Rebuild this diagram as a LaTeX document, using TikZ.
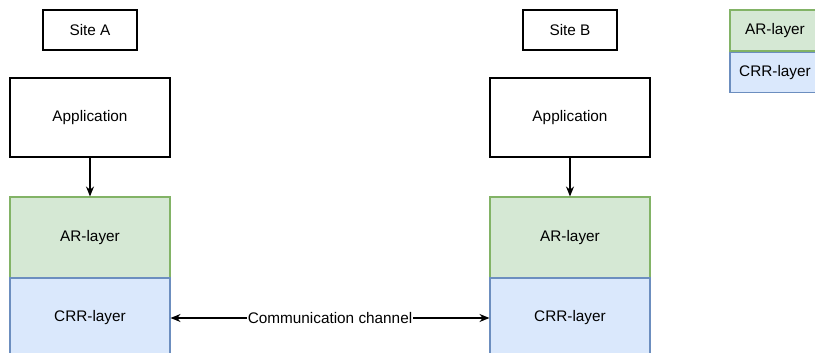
\documentclass[tikz,border=0pt]{standalone}
\usepackage{fontspec}
\setmainfont{Liberation Sans}
\usepackage{xcolor}
\usepackage{tikz}
\usetikzlibrary{arrows,arrows.meta,shapes,positioning}

\definecolor{argreen}{HTML}{D5E8D4}
\definecolor{argreenline}{HTML}{82B366}
\definecolor{crrblue}{HTML}{DAE8FC}
\definecolor{crrblueline}{HTML}{6C8EBF}

\tikzset{
	plainbox/.style={draw=black, fill=white, inner sep=0pt},
	arbox/.style={draw=argreenline, fill=argreen, inner sep=0pt},
	crrbox/.style={draw=crrblueline, fill=crrblue, inner sep=0pt},
	tip/.style={-{Stealth[length=7.5pt, width=6pt]}},
}

\begin{document}
\begin{tikzpicture}[x=0.75pt, y=-0.75pt, font=\fontsize{11.5}{13}\selectfont, line width=0.8pt]
				\useasboundingbox (0,0) rectangle (815,353);
				\clip (0,0) rectangle (815,353);
				
				% site A
				\node [plainbox, minimum width=70.5pt, minimum height=30pt] (siteA) at (90,30) {Site A};
				\node [plainbox, minimum width=120pt, minimum height=59.25pt] (appA) at (90,117.5) {Application};
				\node [arbox, minimum width=120pt, minimum height=60.75pt] (arA) at (90,237.5) {AR-layer};
				\node [crrbox, minimum width=120pt, minimum height=60pt] (crrA) at (90,318) {CRR-layer};
				
				% site B
				\node [plainbox, minimum width=70.5pt, minimum height=30pt] (siteB) at (570,30) {Site B};
				\node [plainbox, minimum width=120pt, minimum height=59.25pt] (appB) at (570,117.5) {Application};
				\node [arbox, minimum width=120pt, minimum height=60.75pt] (arB) at (570,237.5) {AR-layer};
				\node [crrbox, minimum width=120pt, minimum height=60pt] (crrB) at (570,318) {CRR-layer};
				
				% legend
				\node [arbox, minimum width=67.5pt, minimum height=30.75pt] (legAR) at (775,30.5) {AR-layer};
				\node [crrbox, minimum width=67.5pt, minimum height=30pt, below=0pt of legAR] (legCRR) {CRR-layer};
				
				\draw [tip] (appA) -- (arA);
				\draw [tip] (appB) -- (arB);
				
				\draw [{Stealth[length=7.5pt, width=6pt]}-{Stealth[length=7.5pt, width=6pt]}] (crrA) -- node [fill=white, inner sep=0.5pt] {Communication channel} (crrB);
\end{tikzpicture}
\end{document}
